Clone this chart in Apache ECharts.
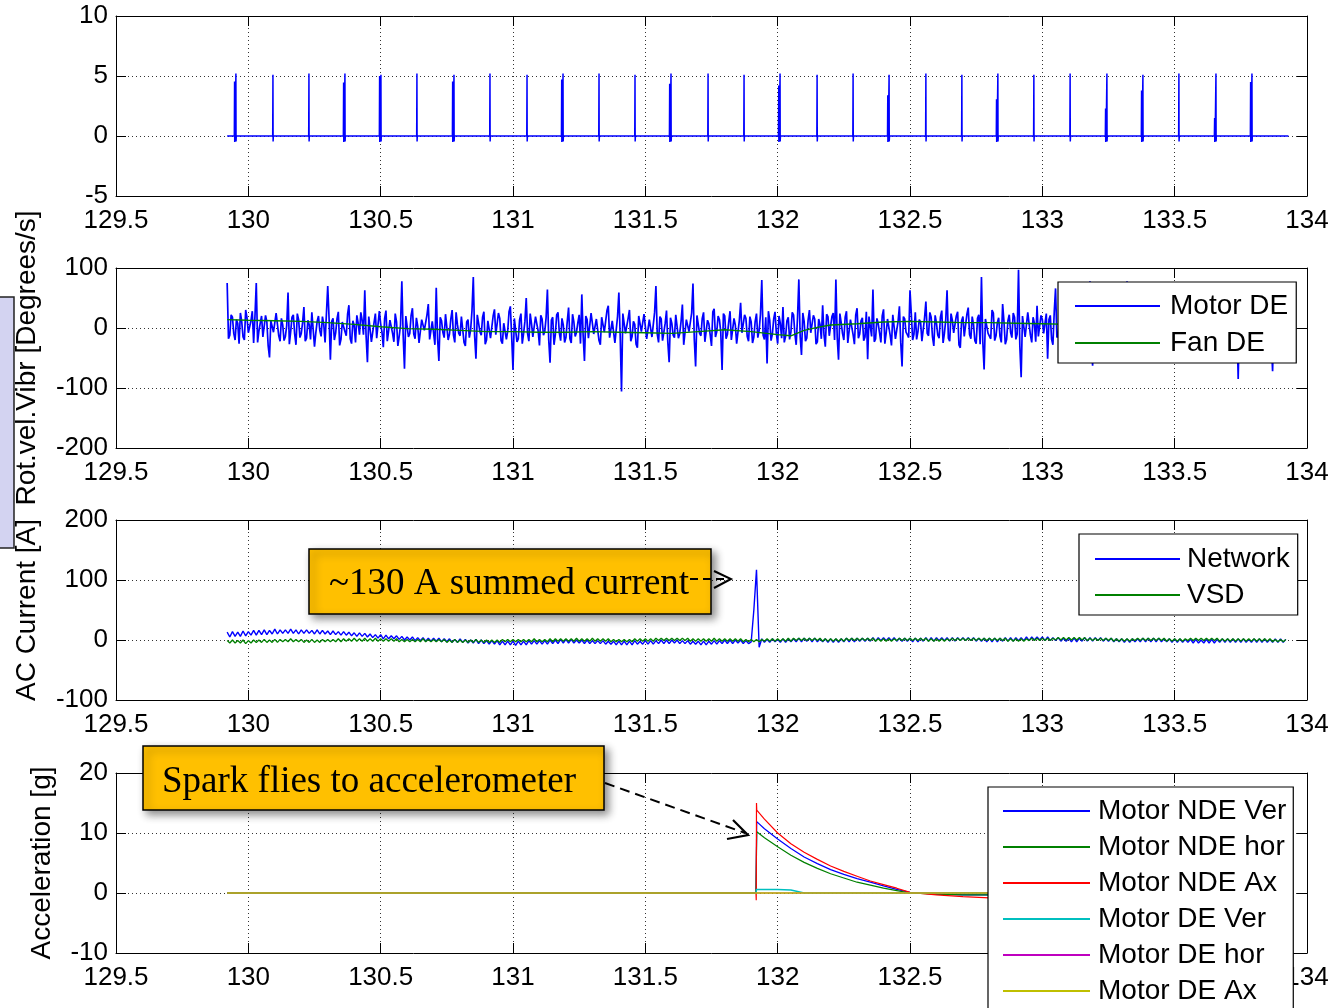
<!DOCTYPE html>
<html><head><meta charset="utf-8">
<script src="https://cdn.jsdelivr.net/npm/echarts@6/dist/echarts.min.js"></script>
<style>html,body{margin:0;padding:0;background:#fff}#c{width:1335px;height:1008px}</style>
</head><body><div id="c"></div>
<script>
// ---------- DATA ----------
const xMin = 129.5, xMax = 134, xStep = 0.5;

// Panel 1: periodic spikes (time [s], main height, secondary (thick) height)
const spikeTimes = [129.953,130.093,130.229,130.365,130.501,130.637,130.777,130.913,131.053,131.189,131.325,131.461,131.597,131.737,131.873,132.009,132.149,132.285,132.421,132.560,132.696,132.832,132.968,133.105,133.244,133.380,133.516,133.656,133.792];
const spikeMain   = [5.2,5.1,5.2,5.2,5.1,5.2,5.1,5.2,5.1,5.2,5.2,5.1,5.2,5.2,5.1,5.2,5.1,5.2,5.1,5.2,5.1,5.2,5.1,5.2,5.2,5.1,5.2,5.2,5.2];
const spikeSecond = [4.55,0,0,4.45,5.0,0,4.55,0,0,4.7,0,0,4.35,0,0,4.2,0,0,3.4,0,0,3.06,0,0,2.3,3.8,0,1.5,4.5];
const sigStart = 129.92, sigEnd = 133.93;

// Panel 2: rotational vibration, Motor DE sampled every 0.01 s from 129.92,
// plus the in-between samples (129.925 + 0.01*i)
const rotT0 = 129.92, rotDt = 0.01;
const motorDE = [75,-12,18,-20,8,25,-15,30,-8,12,
-25,75,-5,20,-18,10,-49,15,-10,28,
-22,5,-14,59,-6,22,-28,14,-9,35,
-17,6,26,-31,11,-4,19,-24,70,-53,
16,-8,27,-19,9,-13,38,-26,4,21,
-11,13,63,-57,18,-7,24,-20,7,-32,
29,-5,15,-23,10,-14,78,-68,20,-9,
33,-18,3,-27,17,-6,40,-21,8,67,
-55,12,-16,25,-10,30,-24,6,-13,22,
-30,14,-3,85,-51,19,-12,27,-20,9,
-15,31,-8,16,-26,11,-5,36,-70,13,
-18,24,-9,50,-22,7,-14,20,-29,15,
-6,64,-58,18,-11,26,-21,5,-16,34,
-25,10,-7,22,56,-55,14,-19,28,-8,
12,-28,19,-4,37,-17,9,-23,59,-106,
21,-10,30,-14,6,-33,17,-5,25,-20,
11,-12,70,-24,15,-7,29,-57,8,-16,
23,-9,39,-27,12,-3,74,-64,18,-13,
26,-21,7,-30,32,-6,14,-70,20,-11,
28,-18,5,-25,42,-8,16,-22,10,-15,
24,-4,80,-19,-59,13,-10,27,-26,8,
35,-14,18,-7,22,-28,81,-45,11,-17,
30,-9,15,-23,6,38,-31,19,-12,25,
81,-53,9,-20,28,-5,14,-27,33,-10,
17,-15,-52,22,64,-18,7,-24,31,-8,
12,-29,20,-3,36,-64,15,-11,63,-20,
26,-6,10,-25,44,-13,18,-30,8,-17,
29,-9,63,-22,13,-5,27,-33,19,-12,
34,-18,6,-26,22,85,-69,16,-10,30,
-21,9,-14,40,-27,12,-7,25,-19,97,
-82,17,-12,28,-24,8,37,-16,14,-6,
-51,21,-28,66,-11,18,-20,5,32,-15,
11,-25,24,-8,39,-19,78,-63,13,-9,
27,-22,6,-30,20,-4,35,-17,10,-26,
78,-12,23,-20,15,-7,31,-28,9,-14,
26,-5,18,70,-40,12,-23,29,-10,7,
-18,33,-25,14,-8,24,-31,65,-13,19,
-6,28,-21,10,-16,36,-9,17,-27,22,
72,-14,-85,11,25,-19,6,-24,30,-8,
15,-29,20,-4,60,-72,13,-17,27,-10,
8];
const motorDEmid = [-18,22,-9,14,-26,11,-20,17,-5,28,
19,-24,8,-15,21,-30,12,-7,25,-13,
16,-21,4,-27,18,-10,24,-16,9,-22,
13,-19,27,-8,20,-14,6,-25,17,11,
-20,15,-29,10,-6,23,-18,12,-24,8,
26,-11,-14,19,-23,9,-17,28,-7,16,
-22,13,-9,24,-30,5,-12,20,-15,21,
-10,17,-25,14,-4,22,-19,11,-28,-18,
18,-7,23,-20,15,-12,26,-9,19,-24,
10,-16,29,-13,22,-6,18,-27,12,-17,
20,-11,25,-21,8,-19,27,-14,16,-23,
14,-26,11,-9,24,-15,19,-5,21,-12,
17,-20,13,-28,22,-8,16,-24,11,-18,
23,-14,9,-26,-12,20,-17,25,-10,15,
-21,18,-7,29,-16,12,-25,19,-13,24,
-9,16,-22,11,-27,20,-6,23,-18,14,
-15,26,-10,19,-21,8,-24,17,-12,22,
-17,11,-28,14,-6,25,-19,21,-9,16,
-23,13,-11,27,-15,20,-7,24,-18,10,
-20,16,-26,12,-8,22,-14,19,-25,11,
-16,23,-12,18,28,-21,15,-9,20,-17,
-24,12,-19,26,-10,17,-14,25,-22,13,
-8,21,-27,15,-18,-11,23,-13,19,-20,
-16,24,-9,18,-25,14,-11,22,-17,12,
-21,27,19,-14,-23,16,-8,20,-26,15,
-12,22,-18,11,-24,19,-7,-16,23,-10,
-19,14,-22,17,-9,26,-15,21,-12,18,
-25,13,-17,24,-8,20,-28,12,-14,23,
-11,19,-21,16,-27,-22,15,-9,-18,25,
-13,17,-24,11,-19,22,-16,18,-10,-30,
20,-15,26,-12,18,-23,-14,21,-9,24,
14,-19,27,-16,12,-25,21,-8,-17,22,
-20,15,-11,23,-18,19,-26,17,-13,21,
-16,24,-9,18,-23,14,-12,26,-20,15,
-18,22,-14,19,-10,25,-17,16,-24,11,
-21,13,-26,-15,20,-8,23,-19,17,-12,
25,-14,19,-22,16,-11,24,-18,21,-9,
18,-23,15,-12,27,-20,14,-25,19,-16,
-22,20,24,-17,-13,21,-15,18,-10,23,
-19,25,-12,16,-18,22,-14,11,-21,17];
const fanT  = [129.92,130.0,130.1,130.2,130.3,130.4,130.5,130.6,130.7,130.8,130.9,131.0,131.1,131.2,131.3,131.4,131.5,131.6,131.7,131.8,131.9,132.0,132.05,132.1,132.15,132.2,132.3,132.4,132.5,132.6,132.7,132.8,132.9,133.0,133.1,133.2,133.3,133.4,133.5,133.6,133.7,133.8,133.9,133.92];
const fanDE = [14,13,12,11,9,6,2,-1,-2,-4,-6,-6,-7,-7,-6,-7,-8,-9,-6,-3,-6,-11,-13,-4,1,5,7,10,11,10,9,9,8,7,6,6,5,5,4,4,3,3,3,3];

// Panel 3: AC current (sampled every 0.01 s from 129.92)
const curT0 = 129.92, curDt = 0.01;
const network = [13,5,14,6,13,6,15,7,14,8,
16,8,16,9,17,9,16,10,18,10,
17,11,17,11,18,11,17,10,17,11,
17,11,16,10,17,10,16,10,15,9,
15,9,14,8,14,8,13,7,12,6,
12,6,11,5,10,4,9,3,9,2,
8,2,7,2,7,1,6,0,5,0,
5,-1,4,-1,4,-2,3,-2,3,-2,
3,-3,2,-3,2,-4,1,-4,2,-4,
1,-5,0,-5,1,-6,0,-6,-1,-7,
-1,-7,-1,-8,-2,-8,-2,-8,-2,-9,
-2,-8,-2,-8,-1,-7,-1,-7,-1,-7,
-1,-7,0,-6,0,-6,1,-5,1,-5,
1,-5,0,-5,0,-6,0,-6,-1,-6,
-1,-6,-1,-7,-2,-7,-2,-8,-2,-8,
-2,-8,-2,-8,-1,-7,-2,-7,-1,-7,
-1,-7,-1,-6,0,-6,0,-6,0,-5,
0,-6,-1,-6,-1,-7,-2,-7,-2,-8,
-2,-8,-2,-7,-1,-7,-1,-6,0,-6,
0,-6,0,-5,0,-6,-1,-6,-3,50,
117,-12,2,-4,1,-4,2,-3,1,-4,
2,-4,2,-3,2,-3,3,-3,3,-2,
3,-3,3,-3,2,-3,2,-4,2,-4,
2,-4,2,-3,3,-3,3,-3,3,-2,
3,-2,3,-2,4,-2,4,-1,4,-1,
4,-1,4,-2,3,-2,3,-2,3,-3,
3,-3,3,-2,4,-2,4,-2,4,-1,
4,-1,4,-2,4,-2,4,-1,4,-1,
4,-1,4,-2,3,-2,3,-3,3,-3,
3,-3,3,-2,4,-2,4,-2,4,-1,
4,-1,5,-1,5,0,5,0,5,-1,
5,-1,4,-1,4,-2,3,-2,3,-3,
3,-3,3,-2,4,-2,4,-2,4,-1,
4,-2,3,-2,3,-3,2,-3,2,-4,
2,-4,2,-3,2,-3,3,-3,3,-3,
3,-3,3,-3,2,-3,2,-4,2,-4,
2,-4,1,-4,1,-5,1,-5,0,-5,
1,-5,1,-5,1,-4,2,-4,2,-4,
2,-4,2,-4,2,-4,1,-4,2,-4,
2,-4,2,-4,1,-4,2,-4,2,-4,
1];
const vsd = [-1,-5,0,-5,-1,-5,0,-6,-1,-5,
0,-4,0,-4,1,-4,0,-4,1,-4,
1,-3,1,-3,2,-3,1,-3,1,-4,
0,-4,1,-4,0,-4,1,-3,1,-3,
1,-3,2,-3,2,-2,2,-2,3,-2,
2,-2,3,-2,2,-2,3,-2,2,-2,
2,-2,2,-2,2,-3,1,-3,1,-3,
1,-3,1,-3,2,-3,1,-3,1,-3,
1,-3,1,-4,0,-4,1,-4,0,-4,
0,-4,0,-4,1,-4,0,-4,0,-4,
0,-4,0,-4,1,-3,1,-3,1,-3,
1,-3,1,-3,1,-3,2,-3,1,-3,
1,-3,2,-3,2,-2,2,-2,2,-2,
2,-2,3,-2,2,-2,2,-2,3,-2,
2,-2,2,-2,2,-3,1,-3,1,-3,
1,-3,1,-3,2,-2,2,-2,2,-2,
2,-2,3,-1,3,-1,3,-1,3,-1,
3,-1,3,-1,3,-2,2,-2,2,-2,
2,-2,2,-2,3,-2,2,-2,2,-2,
2,-2,2,-2,2,-3,1,-3,1,-3,
1,-3,1,-2,2,-2,2,-2,2,-2,
2,-2,3,-2,3,-1,3,-1,3,-1,
3,-1,3,-1,3,-2,2,-2,2,-2,
2,-2,2,-2,3,-1,3,-1,3,-1,
3,-1,3,-1,3,-2,2,-2,2,-2,
2,-2,2,-1,3,-1,3,-1,3,-1,
3,-1,3,-1,3,-2,2,-2,2,-2,
2,-2,2,-1,3,-1,3,-1,3,-1,
3,-1,3,-1,3,-1,3,-1,3,-1,
3,-1,3,-1,3,-2,2,-2,2,-2,
2,-2,2,-1,3,-1,3,-1,3,-1,
3,-1,3,0,4,0,4,0,4,0,
4,0,4,0,4,-1,3,-1,3,-1,
3,-1,3,-1,3,-2,2,-2,2,-2,
2,-2,2,-1,3,-1,3,-1,3,-1,
3,-1,3,-1,3,-2,2,-2,2,-2,
2,-2,2,-1,3,-1,3,-1,3,-1,
3,-1,3,-1,3,-2,2,-2,2,-2,
2,-2,2,-2,2,-2,2,-2,2,-2,
2,-2,2,-2,2,-3,1,-3,1,-3,
1];

// Panel 4: acceleration
const accT      = [129.92,131.918,131.919,131.92,131.921,131.95,132.0,132.05,132.1,132.15,132.2,132.25,132.3,132.35,132.4,132.45,132.5,132.6,132.7,132.8,132.9,133.0,133.2,133.4,133.6,133.8,133.93];
const ndeVer    = [0,0,0,0,11.9,10.7,9.0,7.4,6.0,4.9,3.9,3.1,2.4,1.8,1.2,0.6,0.1,-0.2,-0.3,-0.3,-0.3,-0.3,-0.3,-0.2,-0.2,-0.2,-0.1];
const ndeHor    = [0,0,0,0,10.2,9.2,7.7,6.3,5.1,4.1,3.2,2.5,1.8,1.3,0.8,0.4,0.0,-0.2,-0.3,-0.3,-0.3,-0.3,-0.3,-0.2,-0.2,-0.1,-0.1];
const ndeAx     = [0,0,-1.2,15,13.8,12.3,10.0,8.2,6.8,5.6,4.5,3.6,2.8,2.0,1.4,0.8,0.1,-0.3,-0.6,-0.8,-1.0,-1.0,-0.9,-0.8,-0.6,-0.5,-0.4];
const deVer     = [0,0,0,0.6,0.6,0.6,0.6,0.5,0,0,0,0,0,0,0,0,0,0,0,0,0,0,0,0,0,0,0];
const deHor     = [0,0,0,0,0,0,0,0,0,0,0,0,0,0,0,0,0,0,0,0,0,0,0,0,0,0,0];
const deAx      = [0,0,0,0,0,0,0,0,0,0,0,0,0,0,0,0,0,0,0,0,0,0,0,0,0,0,0];

const yRanges = [[-5,10,5],[-200,100,100],[-100,200,100],[-10,20,10]];
const yNames  = ['', 'Rot.vel.Vibr [Degrees/s]', 'AC Current [A]', 'Acceleration [g]'];

// ---------- BUILD ----------
const FONT = 'Liberation Sans';
const C = {blue:'#0000ff', green:'#008000', red:'#ff0000', cyan:'#00bfbf', magenta:'#bf00bf', yellow:'#bfbf00'};

function seq(t0, dt, vals){ return vals.map((v,i)=>[+(t0+dt*i).toFixed(4), v]); }
function pairs(ts, vals){ return ts.map((t,i)=>[t, vals[i]]); }
function interleave(t0, dt, main, mid){
  const out = [];
  main.forEach((v,i)=>{
    out.push([+(t0+dt*i).toFixed(4), v]);
    if (i < mid.length) out.push([+(t0+dt*(i+0.5)).toFixed(4), mid[i]]);
  });
  return out;
}

const rotSpeed = [[sigStart,0]];
spikeTimes.forEach((t,k)=>{
  const h2 = spikeSecond[k];
  if (h2 > 0) rotSpeed.push([t-0.006,0],[t-0.005,h2],[t-0.0045,-0.5],[t-0.003,0]);
  rotSpeed.push([t-0.001,0],[t,spikeMain[k]],[t+0.0006,-0.45],[t+0.0015,0]);
});
rotSpeed.push([sigEnd,0]);

const gridTops = [16,268,520,773];
const nameGaps = [0,75,75,60];
const grid = gridTops.map(t=>({left:116, top:t, width:1191, height:180, show:false, outerBoundsMode:'none', containLabel:false}));

const splitStyle = {show:true, lineStyle:{color:'#333', type:[1,3], width:1}};
const lineAx = {show:true, onZero:false, lineStyle:{color:'#000', width:1}};
const tickIn = {show:true, inside:true, length:10, lineStyle:{color:'#000', width:1}};
const lblStyle = {color:'#000', fontSize:26, fontFamily:FONT};

const xAxis = [], yAxis = [];
for (let i=0;i<4;i++){
  xAxis.push({type:'value', gridIndex:i, min:xMin, max:xMax, interval:xStep, position:'bottom',
    axisLine:lineAx, axisTick:tickIn, splitLine:splitStyle,
    axisLabel:Object.assign({margin:12, showMinLabel:true, showMaxLabel:true, hideOverlap:false}, lblStyle)});
}
for (let i=0;i<4;i++){
  xAxis.push({type:'value', gridIndex:i, min:xMin, max:xMax, interval:xStep, position:'top',
    axisLine:lineAx, axisTick:tickIn, splitLine:{show:false}, axisLabel:{show:false}});
}
for (let i=0;i<4;i++){
  const r = yRanges[i];
  yAxis.push({type:'value', gridIndex:i, min:r[0], max:r[1], interval:r[2], position:'left',
    name:yNames[i], nameLocation:'middle', nameGap:nameGaps[i], nameRotate:90,
    nameTextStyle:{color:'#000', fontSize:28, fontFamily:FONT, lineHeight:28},
    axisLine:lineAx, axisTick:tickIn, splitLine:splitStyle,
    axisLabel:Object.assign({margin:8, showMinLabel:true, showMaxLabel:true}, lblStyle)});
}
for (let i=0;i<4;i++){
  const r = yRanges[i];
  yAxis.push({type:'value', gridIndex:i, min:r[0], max:r[1], interval:r[2], position:'right',
    axisLine:lineAx, axisTick:tickIn, splitLine:{show:false}, axisLabel:{show:false}});
}

function ln(name, gi, data, color, w){
  return {type:'line', name, xAxisIndex:gi, yAxisIndex:gi, data, showSymbol:false, symbol:'none',
    lineStyle:{color, width:w}, itemStyle:{color}, animation:false, silent:true, clip:true, z:2};
}
const series = [
  ln('rot', 0, rotSpeed, C.blue, 1.5),
  ln('Motor DE', 1, interleave(rotT0, rotDt, motorDE, motorDEmid), C.blue, 1.7),
  ln('Fan DE', 1, pairs(fanT, fanDE), C.green, 1.4),
  ln('Network', 2, seq(curT0, curDt, network), C.blue, 1.4),
  ln('VSD', 2, seq(curT0, curDt, vsd), C.green, 1.3),
  ln('Motor NDE Ver', 3, pairs(accT, ndeVer), C.blue, 1.2),
  ln('Motor NDE hor', 3, pairs(accT, ndeHor), C.green, 1.2),
  ln('Motor NDE Ax', 3, pairs(accT, ndeAx), C.red, 1.2),
  ln('Motor DE Ver', 3, pairs(accT, deVer), C.cyan, 1.5),
  ln('Motor DE hor', 3, pairs(accT, deHor), C.magenta, 1.2),
  ln('Motor DE Ax', 3, pairs(accT, deAx), C.yellow, 1.5)
];

function legend(names, left, top, gap, pad, itemW, txtPad){
  return {data:names, left, top, orient:'vertical', icon:'rect', itemWidth:itemW, itemHeight:2, itemGap:gap,
    padding:pad, backgroundColor:'#fff', borderColor:'#000', borderWidth:1.2, selectedMode:false, z:10, height:400,
    textStyle:{fontSize:28, fontFamily:FONT, color:'#000', lineHeight:28, padding:[0,0,0,txtPad]}};
}
const legends = [
  legend(['Motor DE','Fan DE'], 1058, 282, 9, [10,8,6,17], 85, 5),
  legend(['Network','VSD'], 1079, 534, 8, [11,8,6,16], 85, 2),
  legend(['Motor NDE Ver','Motor NDE hor','Motor NDE Ax','Motor DE Ver','Motor DE hor','Motor DE Ax'], 988, 787, 8, [10,7,8,15], 87, 3)
];

const boxStyle = {fill:'#FFC000', stroke:'#000', lineWidth:1.5, shadowBlur:8, shadowOffsetX:4, shadowOffsetY:4, shadowColor:'rgba(0,0,0,0.45)'};
const graphic = [
  {type:'rect', shape:{x:-2, y:297, width:16, height:251}, style:{fill:'#d3d3f1', stroke:'#222', lineWidth:1.5}, z:0},
  {type:'rect', shape:{x:309, y:549, width:402, height:65}, style:boxStyle, z:100},
  {type:'text', x:329, y:584, style:{text:'~130 A summed current', fontSize:37, fontFamily:'Liberation Serif', fill:'#000', verticalAlign:'middle', align:'left'}, z:101},
  {type:'polyline', shape:{points:[[690,579],[729,579]]}, style:{stroke:'#000', lineWidth:2, lineDash:[8,5], fill:null}, z:102},
  {type:'polyline', shape:{points:[[714,571],[731,579],[714,588]]}, style:{stroke:'#000', lineWidth:2, fill:null}, z:102},
  {type:'rect', shape:{x:143, y:746, width:461, height:64}, style:boxStyle, z:100},
  {type:'text', x:162, y:782, style:{text:'Spark flies to accelerometer', fontSize:37, fontFamily:'Liberation Serif', fill:'#000', verticalAlign:'middle', align:'left'}, z:101},
  {type:'polyline', shape:{points:[[605,783],[745,833]]}, style:{stroke:'#000', lineWidth:2, lineDash:[10,6], fill:null}, z:102},
  {type:'polyline', shape:{points:[[733,820],[748,835],[727,839]]}, style:{stroke:'#000', lineWidth:2.2, fill:null}, z:102}
];

const chart = echarts.init(document.getElementById('c'), null, {renderer:'canvas', width:1335, height:1008});
chart.setOption({
  animation:false,
  backgroundColor:'#fff',
  textStyle:{fontFamily:FONT},
  grid, xAxis, yAxis, series, legend:legends, graphic
});
</script>
</body></html>
